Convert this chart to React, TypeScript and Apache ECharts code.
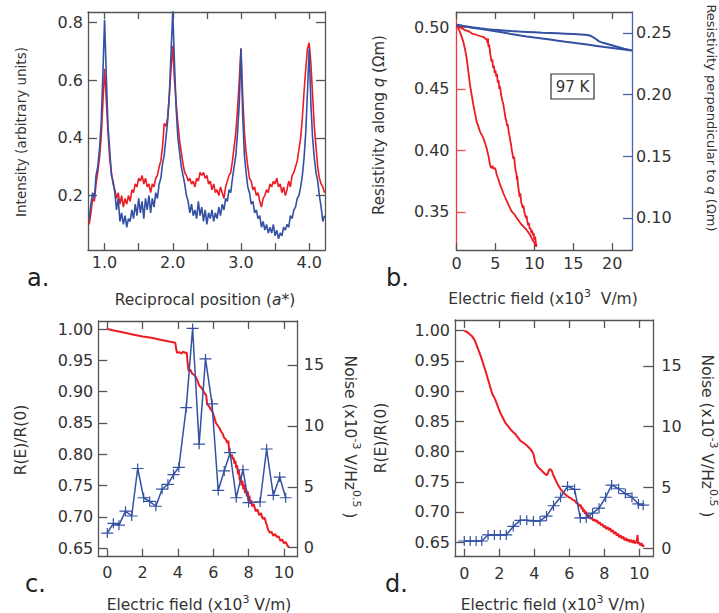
import React, { useEffect, useRef } from "react";
import * as echarts from "echarts";

const RED = "#ec1c24";
const BLUE = "#3451a3";
const FRAME = "#555555";
const TXT = "#333333";
const FONT = "DejaVu Sans";

// ---------- Panel a: intensity vs reciprocal position ----------
const A_X0 = 0.775;
const A_STEP = 0.025;
const aBlue = [
  0.12, 0.17, 0.21, 0.19, 0.27, 0.30, 0.36, 0.45, 0.62, 0.81,
  0.62, 0.44, 0.36, 0.27, 0.25, 0.21, 0.15, 0.19, 0.11, 0.14,
  0.10, 0.13, 0.09, 0.12, 0.11, 0.15, 0.12, 0.17, 0.13, 0.19,
  0.14, 0.18, 0.12, 0.19, 0.15, 0.20, 0.14, 0.19, 0.16, 0.21,
  0.19, 0.24, 0.26, 0.31, 0.34, 0.40, 0.46, 0.55, 0.70, 0.84,
  0.66, 0.50, 0.40, 0.35, 0.30, 0.27, 0.24, 0.20, 0.18, 0.14,
  0.17, 0.13, 0.15, 0.12, 0.18, 0.13, 0.16, 0.11, 0.15, 0.10,
  0.14, 0.12, 0.15, 0.11, 0.14, 0.12, 0.16, 0.13, 0.17, 0.15,
  0.19, 0.18, 0.22, 0.21, 0.26, 0.30, 0.34, 0.42, 0.52, 0.71,
  0.48, 0.34, 0.28, 0.23, 0.21, 0.17, 0.18, 0.14, 0.15, 0.12,
  0.13, 0.09, 0.11, 0.08, 0.10, 0.07, 0.09, 0.07, 0.10, 0.06,
  0.08, 0.05, 0.07, 0.06, 0.09, 0.08, 0.10, 0.09, 0.13, 0.12,
  0.15, 0.16, 0.19, 0.20, 0.23, 0.27, 0.33, 0.42, 0.56, 0.71,
  0.52, 0.40, 0.33, 0.28, 0.25, 0.20, 0.16, 0.11, 0.13,
];
const aRed = [
  0.10, 0.14, 0.19, 0.18, 0.24, 0.28, 0.33, 0.40, 0.52, 0.64,
  0.53, 0.42, 0.33, 0.28, 0.24, 0.22, 0.19, 0.21, 0.17, 0.20,
  0.16, 0.19, 0.17, 0.20, 0.18, 0.22, 0.21, 0.24, 0.23, 0.26,
  0.25, 0.27, 0.24, 0.26, 0.23, 0.24, 0.21, 0.24, 0.23, 0.26,
  0.27, 0.30, 0.32, 0.37, 0.45, 0.44, 0.47, 0.55, 0.64, 0.72,
  0.60, 0.52, 0.45, 0.39, 0.35, 0.31, 0.28, 0.27, 0.25, 0.26,
  0.24, 0.25, 0.23, 0.26, 0.25, 0.28, 0.27, 0.28, 0.26, 0.27,
  0.24, 0.25, 0.22, 0.24, 0.21, 0.22, 0.20, 0.23, 0.21, 0.19,
  0.23, 0.25, 0.27, 0.28, 0.32, 0.37, 0.42, 0.50, 0.60, 0.71,
  0.55, 0.42, 0.35, 0.30, 0.26, 0.25, 0.22, 0.23, 0.20, 0.21,
  0.18, 0.16, 0.19, 0.20, 0.22, 0.21, 0.24, 0.23, 0.25, 0.24,
  0.26, 0.23, 0.24, 0.21, 0.23, 0.20, 0.22, 0.25, 0.23, 0.27,
  0.28, 0.30, 0.32, 0.36, 0.40, 0.47, 0.56, 0.64, 0.71, 0.73,
  0.66, 0.55, 0.44, 0.37, 0.30, 0.26, 0.24, 0.23, 0.21,
];
const aXTicks = [1, 1.5, 2, 2.5, 3, 3.5, 4];
const aXLabels = [1, 2, 3, 4];
const aYTicks = [0.2, 0.4, 0.6, 0.8];

// ---------- Panel b: resistivity vs electric field ----------
const bRedUp: [number, number][] = [
  [0, 0.502], [0.5, 0.500], [1.0, 0.498], [1.5, 0.497], [2.0, 0.495], [2.5, 0.494],
  [3.0, 0.493], [3.5, 0.492], [3.7, 0.491], [3.9, 0.490], [4.0, 0.487], [4.05, 0.491],
  [4.1, 0.484], [4.2, 0.486], [4.3, 0.480], [4.4, 0.476], [4.5, 0.472], [4.6, 0.474],
  [4.7, 0.467], [4.8, 0.469], [4.9, 0.463], [5.0, 0.465], [5.1, 0.460], [5.2, 0.462],
  [5.3, 0.455], [5.4, 0.457], [5.5, 0.450], [5.6, 0.452], [5.7, 0.446], [5.8, 0.443],
  [5.9, 0.440], [6.0, 0.438], [6.1, 0.434], [6.2, 0.430], [6.3, 0.426], [6.4, 0.424],
  [6.5, 0.420], [6.6, 0.421], [6.7, 0.415], [6.8, 0.412], [6.9, 0.408], [7.0, 0.405],
  [7.1, 0.400], [7.2, 0.397], [7.3, 0.393], [7.4, 0.395], [7.5, 0.388], [7.6, 0.383],
  [7.7, 0.381], [7.75, 0.376], [7.8, 0.379], [7.9, 0.372], [8.0, 0.367], [8.1, 0.362],
  [8.2, 0.365], [8.3, 0.358], [8.4, 0.356], [8.5, 0.353], [8.6, 0.355], [8.7, 0.350],
  [8.8, 0.348], [8.9, 0.345], [9.0, 0.347], [9.1, 0.342], [9.2, 0.339], [9.3, 0.341],
  [9.4, 0.336], [9.5, 0.337], [9.6, 0.333], [9.7, 0.335], [9.8, 0.331], [9.9, 0.333],
  [10.0, 0.327], [10.1, 0.330], [10.2, 0.324], [10.3, 0.322],
];
const bRedDown: [number, number][] = [
  [10.3, 0.322], [10.18, 0.3222], [10.0, 0.325], [9.84, 0.3263], [9.7, 0.328], [9.55, 0.330],
  [9.41, 0.3317], [9.25, 0.333], [9.1, 0.3345], [8.95, 0.3358], [8.77, 0.337], [8.55, 0.3385],
  [8.34, 0.3397], [8.1, 0.3418], [7.9, 0.3437], [7.7, 0.3452], [7.45, 0.348], [7.25, 0.3492],
  [7.06, 0.3506], [6.85, 0.3535], [6.65, 0.356], [6.45, 0.359], [6.2, 0.3625], [6.0, 0.3654],
  [5.8, 0.3688], [5.59, 0.3721], [5.38, 0.3765], [5.16, 0.3802], [5.05, 0.3838], [4.94, 0.3856],
  [4.75, 0.3852], [4.62, 0.3875], [4.52, 0.3856], [4.4, 0.3862], [4.3, 0.3883], [4.1, 0.3955],
  [3.87, 0.4018], [3.65, 0.4062], [3.45, 0.4099], [3.22, 0.4128], [3.02, 0.4153], [2.8, 0.4195],
  [2.59, 0.4234], [2.38, 0.43], [2.17, 0.4369], [1.95, 0.445], [1.74, 0.453], [1.52, 0.464],
  [1.31, 0.4747], [1.1, 0.482], [0.88, 0.4882], [0.6, 0.4935], [0.4, 0.497], [0.2, 0.4995],
  [0.03, 0.502],
];
const bBlueUp: [number, number][] = [
  [0, 0.2566], [1, 0.2555], [2, 0.2546], [3, 0.2538], [4, 0.2531], [5, 0.2525], [6, 0.252],
  [7, 0.2515], [8, 0.2511], [9, 0.2508], [10, 0.2505], [11, 0.2502], [12, 0.25], [13, 0.2497],
  [14, 0.2494], [15, 0.2491], [16, 0.2487], [16.8, 0.2483], [17.3, 0.2475], [17.8, 0.2455],
  [18.3, 0.2432], [18.8, 0.242], [19.5, 0.2408], [20.5, 0.239], [21.5, 0.2372], [22.5, 0.2357],
];
const bBlueDown: [number, number][] = [
  [22.5, 0.2357], [21, 0.237], [20, 0.2378], [19, 0.2386], [18, 0.2395], [17, 0.2404],
  [16, 0.2412], [15, 0.242], [14, 0.2428], [13, 0.2437], [12, 0.2446], [11, 0.2455],
  [10, 0.2463], [9, 0.2472], [8, 0.2482], [7, 0.2492], [6, 0.2503], [5, 0.2513], [4, 0.2523],
  [3, 0.2533], [2, 0.2543], [1, 0.2554], [0, 0.2566],
];
const bXTicks = [0, 5, 10, 15, 20];
const bLeftTicks = [0.35, 0.4, 0.45, 0.5];
const bRightTicks = [0.1, 0.15, 0.2, 0.25];

// ---------- Panel c ----------
const cRatio: [number, number][] = [
  [0, 1.0], [0.5, 0.997], [1.0, 0.994], [1.5, 0.991], [2.0, 0.988], [2.5, 0.986], [3.0, 0.983],
  [3.5, 0.98], [3.85, 0.978], [3.9, 0.968], [3.95, 0.962], [4.1, 0.963], [4.2, 0.961],
  [4.3, 0.964], [4.4, 0.962], [4.5, 0.962], [4.55, 0.945], [4.6, 0.933], [4.7, 0.935],
  [4.8, 0.929], [4.9, 0.927], [5.0, 0.924], [5.1, 0.918], [5.2, 0.91], [5.3, 0.907],
  [5.4, 0.903], [5.5, 0.898], [5.6, 0.894], [5.65, 0.88], [5.75, 0.877], [5.85, 0.872],
  [5.95, 0.868], [6.05, 0.86], [6.15, 0.85], [6.25, 0.846], [6.35, 0.842], [6.45, 0.836],
  [6.55, 0.832], [6.6, 0.827], [6.7, 0.824], [6.8, 0.818], [6.85, 0.822], [6.9, 0.805],
  [6.95, 0.8], [7.0, 0.797], [7.05, 0.8], [7.1, 0.792], [7.15, 0.795], [7.2, 0.785],
  [7.25, 0.79], [7.3, 0.778], [7.35, 0.783], [7.4, 0.768], [7.45, 0.775], [7.5, 0.758],
  [7.55, 0.766], [7.6, 0.75], [7.65, 0.758], [7.7, 0.744], [7.75, 0.752], [7.8, 0.738],
  [7.85, 0.746], [7.9, 0.733], [7.95, 0.741], [8.0, 0.728], [8.05, 0.734], [8.1, 0.721],
  [8.15, 0.727], [8.2, 0.717], [8.3, 0.72], [8.4, 0.709], [8.5, 0.712], [8.6, 0.703],
  [8.7, 0.706], [8.8, 0.697], [8.9, 0.699], [9.0, 0.69], [9.1, 0.68], [9.2, 0.675],
  [9.3, 0.676], [9.4, 0.67], [9.5, 0.673], [9.6, 0.668], [9.7, 0.669], [9.8, 0.662],
  [9.9, 0.664], [10.0, 0.658], [10.1, 0.66], [10.2, 0.654], [10.3, 0.652],
];
const cNoise: [number, number][] = [
  [0, 1.2], [0.34, 2.0], [0.66, 1.85], [1.03, 3.0], [1.38, 2.6], [1.72, 6.5], [2.06, 4.1],
  [2.4, 3.8], [2.75, 3.4], [3.1, 4.8], [3.43, 5.2], [3.75, 6.0], [4.05, 6.6], [4.47, 11.5],
  [4.83, 18.0], [5.2, 8.5], [5.56, 15.5], [5.93, 11.8], [6.28, 4.7], [6.62, 6.3], [6.95, 7.8],
  [7.3, 4.1], [7.68, 6.4], [8.0, 3.7], [8.65, 3.75], [9.02, 8.1], [9.4, 4.3], [9.76, 5.8],
  [10.1, 4.1],
];

// ---------- Panel d ----------
const dRatio: [number, number][] = [
  [0, 1.0], [0.2, 0.997], [0.44, 0.991], [0.6, 0.984], [0.72, 0.975], [0.85, 0.965],
  [1.0, 0.953], [1.15, 0.939], [1.3, 0.925], [1.45, 0.91], [1.58, 0.897], [1.7, 0.89],
  [1.77, 0.886], [1.9, 0.876], [2.06, 0.864], [2.2, 0.856], [2.34, 0.848], [2.5, 0.842],
  [2.63, 0.837], [2.8, 0.832], [2.92, 0.829], [3.05, 0.824], [3.2, 0.818], [3.35, 0.815],
  [3.49, 0.812], [3.65, 0.808], [3.78, 0.804], [3.9, 0.799], [3.96, 0.795], [4.02, 0.787],
  [4.06, 0.782], [4.15, 0.777], [4.25, 0.773], [4.4, 0.769], [4.54, 0.765], [4.65, 0.762],
  [4.73, 0.761], [4.8, 0.766], [4.86, 0.77], [4.92, 0.771], [5.0, 0.768], [5.1, 0.76],
  [5.2, 0.754], [5.3, 0.748], [5.39, 0.743], [5.5, 0.738], [5.58, 0.735], [5.7, 0.731],
  [5.87, 0.727], [6.0, 0.724], [6.1, 0.723], [6.2, 0.72], [6.3, 0.719], [6.4, 0.715],
  [6.5, 0.714], [6.6, 0.709], [6.65, 0.712], [6.7, 0.705], [6.75, 0.708], [6.8, 0.7],
  [6.85, 0.704], [6.9, 0.697], [6.95, 0.701], [7.0, 0.694], [7.05, 0.697], [7.1, 0.691],
  [7.15, 0.694], [7.2, 0.689], [7.3, 0.69], [7.35, 0.686], [7.45, 0.688], [7.5, 0.684],
  [7.6, 0.686], [7.65, 0.681], [7.75, 0.683], [7.8, 0.678], [7.9, 0.68], [7.95, 0.675],
  [8.05, 0.677], [8.1, 0.672], [8.2, 0.675], [8.25, 0.67], [8.35, 0.673], [8.4, 0.667],
  [8.5, 0.67], [8.55, 0.664], [8.65, 0.667], [8.7, 0.661], [8.8, 0.664], [8.85, 0.658],
  [8.95, 0.661], [9.0, 0.656], [9.1, 0.659], [9.15, 0.653], [9.25, 0.657], [9.3, 0.652],
  [9.4, 0.655], [9.45, 0.65], [9.55, 0.654], [9.6, 0.649], [9.7, 0.653], [9.75, 0.648],
  [9.85, 0.651], [9.9, 0.662], [9.93, 0.647], [10.0, 0.65], [10.05, 0.645], [10.15, 0.648],
  [10.2, 0.643], [10.28, 0.645],
];
const dNoise: [number, number][] = [
  [0, 0.6], [0.34, 0.6], [0.68, 0.6], [1.0, 0.6], [1.36, 1.1], [1.72, 1.1], [2.06, 1.1],
  [2.4, 1.1], [2.8, 1.8], [3.2, 2.3], [3.57, 2.3], [3.95, 2.25], [4.33, 2.25], [4.7, 2.65],
  [5.1, 3.5], [5.5, 4.2], [5.9, 5.1], [6.3, 4.85], [6.63, 2.5], [6.97, 2.5], [7.33, 2.9],
  [7.7, 3.3], [8.08, 4.2], [8.42, 5.2], [8.82, 4.9], [9.2, 4.5], [9.58, 4.2], [9.95, 3.65],
  [10.22, 3.55],
];
const cdXTicks = [0, 2, 4, 6, 8, 10];
const cdLeftTicks = [0.65, 0.7, 0.75, 0.8, 0.85, 0.9, 0.95, 1.0];
const cdRightTicks = [0, 5, 10, 15];

const PLUS = "path://M0,4.4H12V5.6H0Z M5.4,0H6.6V10H5.4Z";

type AxOpt = {
  grid: number;
  min: number;
  max: number;
  pos: string;
  ticks?: number[];
  labels?: number[];
  fmt?: (v: number) => string;
  margin?: number;
  tickLen?: number;
  lineColor?: string;
  tickColor?: string;
};

function ax(o: AxOpt): any {
  return {
    type: "value",
    gridIndex: o.grid,
    min: o.min,
    max: o.max,
    position: o.pos,
    axisLine: { show: true, onZero: false, lineStyle: { color: o.lineColor || FRAME, width: 1.3 } },
    axisTick: o.ticks
      ? {
          show: true,
          inside: true,
          length: o.tickLen || 8,
          customValues: o.ticks,
          lineStyle: { color: o.tickColor || FRAME, width: 1.3 },
        }
      : { show: false },
    axisLabel: o.labels
      ? {
          show: true,
          customValues: o.labels,
          formatter: o.fmt,
          margin: o.margin ?? 6,
          color: TXT,
          fontSize: 16,
          fontFamily: FONT,
        }
      : { show: false },
    splitLine: { show: false },
  };
}

const f1 = (v: number) => v.toFixed(1);
const f2 = (v: number) => v.toFixed(2);
const f0 = (v: number) => String(Math.round(v));

function title(text: string, x: number, y: number, rot: number, size: number): any {
  const lh = Math.round(size * 1.5);
  return {
    type: "text",
    x,
    y,
    rotation: rot,
    style: {
      text,
      fontSize: size,
      fontFamily: FONT,
      fill: TXT,
      align: "center",
      verticalAlign: "middle",
      lineHeight: lh,
      rich: {
        s: { fontSize: Math.round(size * 0.68), fontFamily: FONT, fill: TXT, verticalAlign: "top", lineHeight: Math.round(size * 0.9) },
        i: { fontSize: size, fontFamily: FONT, fill: TXT, fontStyle: "italic", lineHeight: lh },
      },
    },
  };
}

function letter(text: string, x: number, y: number): any {
  return {
    type: "text",
    x,
    y,
    style: { text, fontSize: 24, fontFamily: FONT, fill: "#222", align: "left", verticalAlign: "bottom" },
  };
}

function line(data: any, xi: number, yi: number, color: string, width: number, extra?: any): any {
  return {
    type: "line",
    xAxisIndex: xi,
    yAxisIndex: yi,
    data,
    showSymbol: false,
    symbol: "none",
    lineStyle: { color, width },
    itemStyle: { color },
    silent: true,
    z: 3,
    ...(extra || {}),
  };
}

export default function App() {
  const ref = useRef<HTMLDivElement>(null);
  useEffect(() => {
    if (!ref.current) return;
    const chart = echarts.init(ref.current, undefined, { renderer: "svg" });
    const aBlueData = aBlue.map((v, i) => [A_X0 + i * A_STEP, v]);
    const aRedData = aRed.map((v, i) => [A_X0 + i * A_STEP, v]);
    const noiseSeries = (data: any, xi: number, yi: number) =>
      line(data, xi, yi, BLUE, 1.5, {
        showSymbol: true,
        symbol: PLUS,
        symbolSize: [12, 10],
        itemStyle: { color: BLUE, borderWidth: 0 },
      });

    const option: any = {
      animation: false,
      grid: [
        { left: 88, top: 12, width: 237, height: 238 },
        { left: 456.5, top: 12, width: 175.5, height: 238 },
        { left: 98.3, top: 321, width: 199.4, height: 235.7 },
        { left: 455, top: 320, width: 198.3, height: 236.7 },
      ],
      xAxis: [
        ax({ grid: 0, min: 0.757, max: 4.232, pos: "bottom", ticks: aXTicks, labels: aXLabels, fmt: f1, margin: 4, tickLen: 7 }),
        ax({ grid: 0, min: 0.757, max: 4.232, pos: "top", ticks: aXTicks, tickLen: 7 }),
        ax({ grid: 1, min: 0, max: 22.53, pos: "bottom", ticks: bXTicks, labels: bXTicks, fmt: f0, margin: 5, tickLen: 7 }),
        ax({ grid: 1, min: 0, max: 22.53, pos: "top", ticks: bXTicks, tickLen: 7 }),
        ax({ grid: 2, min: -0.51, max: 10.78, pos: "bottom", ticks: cdXTicks, labels: cdXTicks, fmt: f0, margin: 8, tickLen: 8 }),
        ax({ grid: 2, min: -0.51, max: 10.78, pos: "top", ticks: cdXTicks, tickLen: 8 }),
        ax({ grid: 3, min: -0.53, max: 10.8, pos: "bottom", ticks: cdXTicks, labels: cdXTicks, fmt: f0, margin: 9, tickLen: 8 }),
        ax({ grid: 3, min: -0.53, max: 10.8, pos: "top", ticks: cdXTicks, tickLen: 8 }),
      ],
      yAxis: [
        ax({ grid: 0, min: 0.011, max: 0.837, pos: "left", ticks: aYTicks, labels: aYTicks, fmt: f1, margin: 5, tickLen: 9 }),
        ax({ grid: 0, min: 0.011, max: 0.837, pos: "right", ticks: aYTicks, tickLen: 9 }),
        ax({
          grid: 1, min: 0.319, max: 0.5125, pos: "left", ticks: bLeftTicks, labels: bLeftTicks, fmt: f2,
          margin: 7, tickLen: 9, lineColor: "#ef3b40", tickColor: "#ef4a4f",
        }),
        ax({
          grid: 1, min: 0.0739, max: 0.267, pos: "right", ticks: bRightTicks, labels: bRightTicks, fmt: f2,
          margin: 4, tickLen: 9, lineColor: "#4563b2", tickColor: "#4563b2",
        }),
        ax({ grid: 2, min: 0.6366, max: 1.0128, pos: "left", ticks: cdLeftTicks, labels: cdLeftTicks, fmt: f2, margin: 5, tickLen: 9 }),
        ax({ grid: 2, min: -0.74, max: 18.61, pos: "right", ticks: cdRightTicks, labels: cdRightTicks, fmt: f0, margin: 6, tickLen: 10 }),
        ax({ grid: 3, min: 0.626, max: 1.0177, pos: "left", ticks: cdLeftTicks, labels: cdLeftTicks, fmt: f2, margin: 5, tickLen: 9 }),
        ax({ grid: 3, min: -0.69, max: 18.78, pos: "right", ticks: cdRightTicks, labels: cdRightTicks, fmt: f0, margin: 8, tickLen: 10 }),
      ],
      series: [
        line(aRedData, 0, 0, RED, 1.6),
        line(aBlueData, 0, 0, BLUE, 1.6),
        line(bRedUp, 2, 2, RED, 1.8),
        line(bRedDown, 2, 2, RED, 1.8),
        line(bBlueUp, 2, 3, BLUE, 2),
        line(bBlueDown, 2, 3, BLUE, 2),
        line(cRatio, 4, 4, RED, 2),
        noiseSeries(cNoise, 4, 5),
        line(dRatio, 6, 6, RED, 2),
        noiseSeries(dNoise, 6, 7),
      ],
      graphic: [
        letter("a.", 27, 290),
        letter("b.", 386, 290),
        letter("c.", 25, 596),
        letter("d.", 385, 596),
        title("Intensity (arbitrary units)", 21, 132, Math.PI / 2, 13.5),
        title("Reciprocal position ({i|a}*)", 205, 300, 0, 15.5),
        title("Resistivity along {i|q} (Ωm)", 379, 125, Math.PI / 2, 15),
        title("Resistivity perpendicular to {i|q} (Ωm)", 711, 118, -Math.PI / 2, 13),
        title("Electric field (x10{s|3}  V/m)", 543, 299, 0, 15.5),
        title("R(E)/R(0)", 21, 440, Math.PI / 2, 15.5),
        title("Noise (x10{s|-3} V/Hz{s|0.5} )", 350, 437, -Math.PI / 2, 15.5),
        title("Electric field (x10{s|3} V/m)", 199, 605, 0, 15.5),
        title("R(E)/R(0)", 381, 438, Math.PI / 2, 15.5),
        title("Noise (x10{s|-3} V/Hz{s|0.5} )", 707, 436, -Math.PI / 2, 15.5),
        title("Electric field (x10{s|3} V/m)", 553, 605, 0, 15.5),
        {
          type: "rect",
          shape: { x: 551, y: 74, width: 43, height: 25 },
          style: { fill: "#ffffff", stroke: "#333333", lineWidth: 1.2 },
          z: 10,
        },
        {
          type: "text",
          x: 572.5,
          y: 87,
          z: 11,
          style: { text: "97 K", fontSize: 15, fontFamily: FONT, fill: TXT, align: "center", verticalAlign: "middle" },
        },
      ],
    };
    chart.setOption(option);
    return () => chart.dispose();
  }, []);
  return (
    <div
      ref={ref}
      style={{ position: "absolute", left: 0, top: 0, width: 719, height: 613, background: "#ffffff" }}
    />
  );
}
